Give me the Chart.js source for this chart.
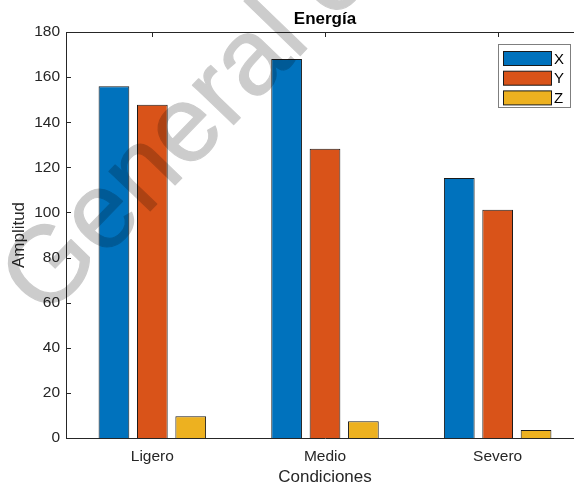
<!DOCTYPE html>
<html>
<head>
<meta charset="utf-8">
<script src="https://cdn.jsdelivr.net/npm/chart.js@4.4.0/dist/chart.umd.min.js"></script>
<style>
  html, body { margin: 0; padding: 0; background: #fff; overflow: hidden; }
  #wrap { width: 600px; height: 491px; }
</style>
</head>
<body>
<div id="wrap"><canvas id="myChart" width="600" height="491"></canvas></div>
<script>
var categories = ['Ligero', 'Medio', 'Severo'];
var seriesNames = ['X', 'Y', 'Z'];
var valuesX = [156.0, 168.0, 115.3];
var valuesY = [147.7, 128.2, 101.2];
var valuesZ = [9.6, 7.4, 3.5];
var yTicks = [0, 20, 40, 60, 80, 100, 120, 140, 160, 180];
var colors = ['#0072BD', '#D95319', '#EDB120'];

var axisColor = '#262626';
var fontName = '"Liberation Sans", Arial, Helvetica, sans-serif';

// title, axis ticks inside, legend box and watermark
var extras = {
  id: 'extras',
  beforeDatasetsDraw: function(chart) {
    var c = chart.ctx, a = chart.chartArea, x = chart.scales.x;
    c.save();
    c.strokeStyle = axisColor;
    c.lineWidth = 1;
    c.beginPath();
    for (var i = 0; i < categories.length; i++) {
      var px = Math.round(x.getPixelForValue(i)) + 0.5;
      c.moveTo(px, a.bottom);
      c.lineTo(px, a.bottom - 5);
    }
    c.stroke();
    c.restore();
  },
  afterDraw: function(chart) {
    var c = chart.ctx, a = chart.chartArea, x = chart.scales.x, y = chart.scales.y;
    c.save();
    c.strokeStyle = axisColor;
    c.lineWidth = 1;
    c.beginPath();
    // top border
    c.moveTo(a.left, a.top + 0.5);
    c.lineTo(a.right, a.top + 0.5);
    for (var i = 0; i < categories.length; i++) {
      var px = Math.round(x.getPixelForValue(i)) + 0.5;
      c.moveTo(px, a.top);
      c.lineTo(px, a.top + 5);
    }
    for (var j = 1; j < yTicks.length - 1; j++) {
      var py = Math.round(y.getPixelForValue(yTicks[j])) + 0.5;
      c.moveTo(a.left, py);
      c.lineTo(a.left + 5, py);
    }
    c.stroke();

    // title
    c.fillStyle = '#000';
    c.font = 'bold 17px ' + fontName;
    c.textAlign = 'center';
    c.textBaseline = 'middle';
    c.fillText('Energía', (a.left + a.right) / 2, 19);

    // legend
    var lx = 498.5, ly = 44.5, lw = 72, lh = 63;
    c.fillStyle = '#fff';
    c.fillRect(lx, ly, lw, lh);
    c.strokeStyle = '#7f7f7f';
    c.strokeRect(lx, ly, lw, lh);
    c.font = '15px ' + fontName;
    c.textAlign = 'left';
    var ds = chart.data.datasets;
    for (var k = 0; k < ds.length; k++) {
      var ry = 51.5 + k * 19.7;
      c.fillStyle = ds[k].backgroundColor;
      c.fillRect(503.5, ry, 48, 14);
      c.strokeStyle = '#1a1a1a';
      c.strokeRect(503.5, ry, 48, 14);
      c.fillStyle = '#000';
      c.fillText(ds[k].label, 554, ry + 8);
    }
    c.restore();

    // watermark: drawn opaque on a scratch canvas, then laid on top translucent
    var w = document.createElement('canvas');
    w.width = chart.width;
    w.height = chart.height;
    var wc = w.getContext('2d');
    wc.translate(45, 320);
    wc.rotate(-46 * Math.PI / 180);
    wc.font = '108px ' + fontName;
    wc.fillStyle = '#000';
    wc.strokeStyle = '#000';
    wc.lineWidth = 1.2;
    wc.lineJoin = 'round';
    wc.fillText('General e', 0, 0);
    wc.strokeText('General e', 0, 0);
    c.save();
    c.globalAlpha = 0.2;
    c.drawImage(w, 0, 0);
    c.restore();
  }
};

var ctx = document.getElementById('myChart');
new Chart(ctx, {
  type: 'bar',
  data: {
    labels: categories,
    datasets: [
      { label: seriesNames[0], data: valuesX, backgroundColor: colors[0] },
      { label: seriesNames[1], data: valuesY, backgroundColor: colors[1] },
      { label: seriesNames[2], data: valuesZ, backgroundColor: colors[2] }
    ].map(function(d) {
      d.borderColor = '#1a1a1a';
      d.borderWidth = 1;
      d.categoryPercentage = 0.667;
      d.barPercentage = 0.8;
      return d;
    })
  },
  options: {
    responsive: false,
    animation: false,
    devicePixelRatio: 1,
    layout: { padding: { top: 32, right: 16, bottom: 0, left: 0 } },
    plugins: {
      legend: { display: false },
      title: { display: false },
      tooltip: { enabled: false }
    },
    scales: {
      x: {
        grid: { display: false, drawTicks: false },
        border: { display: true, color: axisColor, width: 1 },
        ticks: { color: '#262626', font: { family: fontName, size: 15.5 }, padding: 9 },
        title: { display: true, text: 'Condiciones', color: '#262626',
                 font: { family: fontName, size: 17 }, padding: { top: 0, bottom: 3 } },
        afterFit: function(s) { s.height = 53; }
      },
      y: {
        min: 0,
        max: 180,
        grid: { display: false, drawTicks: false },
        border: { display: true, color: axisColor, width: 1 },
        afterBuildTicks: function(s) {
          s.ticks = yTicks.map(function(v) { return { value: v }; });
        },
        ticks: { color: '#262626', font: { family: fontName, size: 15.5 }, padding: 6 },
        title: { display: true, text: 'Amplitud', color: '#262626',
                 font: { family: fontName, size: 17 }, padding: { top: 9, bottom: 0 } },
        afterFit: function(s) { s.width = 66; }
      }
    }
  },
  plugins: [extras]
});
</script>
</body>
</html>
